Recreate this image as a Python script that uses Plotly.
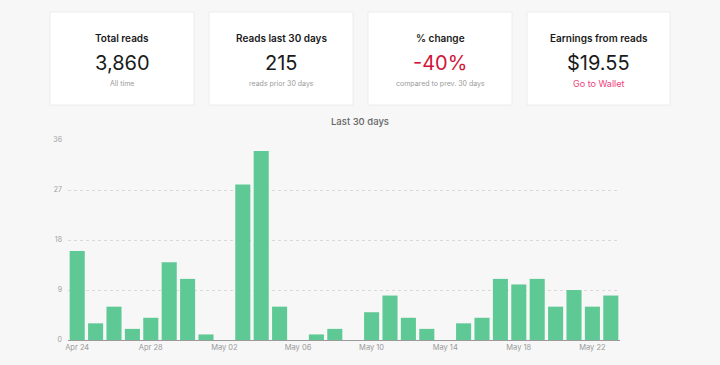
import plotly.graph_objects as go

# ---- data ----
days = ["Apr 24", "Apr 25", "Apr 26", "Apr 27", "Apr 28", "Apr 29", "Apr 30", "May 01",
        "May 02", "May 03", "May 04", "May 05", "May 06", "May 07", "May 08", "May 09",
        "May 10", "May 11", "May 12", "May 13", "May 14", "May 15", "May 16", "May 17",
        "May 18", "May 19", "May 20", "May 21", "May 22", "May 23"]
reads = [16, 3, 6, 2, 4, 14, 11, 1, 0, 28, 34, 6, 0, 1, 2, 0,
         5, 8, 4, 2, 0, 3, 4, 11, 10, 11, 6, 9, 6, 8]
tick_days = ["Apr 24", "Apr 28", "May 02", "May 06", "May 10", "May 14", "May 18", "May 22"]
y_ticks = [0, 9, 18, 27, 36]

card_titles = ["Total reads", "Reads last 30 days", "% change", "Earnings from reads"]
card_values = ["3,860", "215", "-40%", "$19.55"]
card_notes = ["All time", "reads prior 30 days", "compared to prev. 30 days", "Go to Wallet"]

W, H = 720, 365
FONT = "Inter"

fig = go.Figure()
fig.add_trace(go.Bar(x=days, y=reads, marker=dict(color="#5fc995", line=dict(width=0)),
                     hoverinfo="x+y"))

# plot area in pixels
px0, px1, py_top, py_bot = 68, 620, 140, 340

fig.update_layout(
    width=W, height=H,
    margin=dict(l=0, r=0, t=0, b=0),
    paper_bgcolor="#f7f7f7", plot_bgcolor="#f7f7f7",
    template="none",
    showlegend=False,
    bargap=0.18,
    font=dict(family=FONT, color="#999"),
    xaxis=dict(domain=[px0 / W, px1 / W], type="category", range=[-0.5, len(days) - 0.5],
               tickvals=tick_days, ticktext=tick_days, tickfont=dict(size=7.5, color="#999"),
               showgrid=False, showline=True, linecolor="#9a9a9a", linewidth=1,
               ticks="", automargin=False, fixedrange=True),
    yaxis=dict(domain=[(H - py_bot) / H, (H - py_top) / H], range=[0, 36],
               tickvals=y_ticks, tickfont=dict(size=7, color="#a0a0a0"),
               showgrid=True, gridcolor="#dadada", griddash="dot", gridwidth=1,
               zeroline=False, showline=False, ticks="", ticklabelstandoff=5,
               automargin=False, fixedrange=True),
)


def note(x, y, text, size, color, weight=400):
    fig.add_annotation(x=x / W, y=1 - y / H, xref="paper", yref="paper", showarrow=False,
                       xanchor="center", yanchor="middle", text=text,
                       font=dict(family=FONT, size=size, color=color, weight=weight))


# title of chart
note(360, 121, "Last 30 days", 9.5, "#666", 500)

# cards
cards_x = [(50, 194), (209, 353), (368, 512), (527, 670)]
cy0, cy1 = 12, 105
for i, (x0, x1) in enumerate(cards_x):
    fig.add_shape(type="rect", xref="paper", yref="paper",
                  x0=x0 / W, x1=x1 / W, y0=1 - cy1 / H, y1=1 - cy0 / H,
                  fillcolor="white", line=dict(color="#ececec", width=1), layer="below")
    cx = (x0 + x1) / 2
    note(cx, 38, card_titles[i], 10, "#1a1a1a", 600)
    vcol = "#d0143a" if card_values[i].startswith("-") else "#1a1a1a"
    note(cx, 63, card_values[i], 20, vcol, 400)
    if card_notes[i] == "Go to Wallet":
        note(cx, 83.5, card_notes[i], 9, "#ee3e7a")
    else:
        note(cx, 83.5, card_notes[i], 7, "#9a9a9a")

fig.write_html("out.html", config={"displayModeBar": False},
               post_script="document.body.style.margin='0';document.body.style.overflow='hidden';")
